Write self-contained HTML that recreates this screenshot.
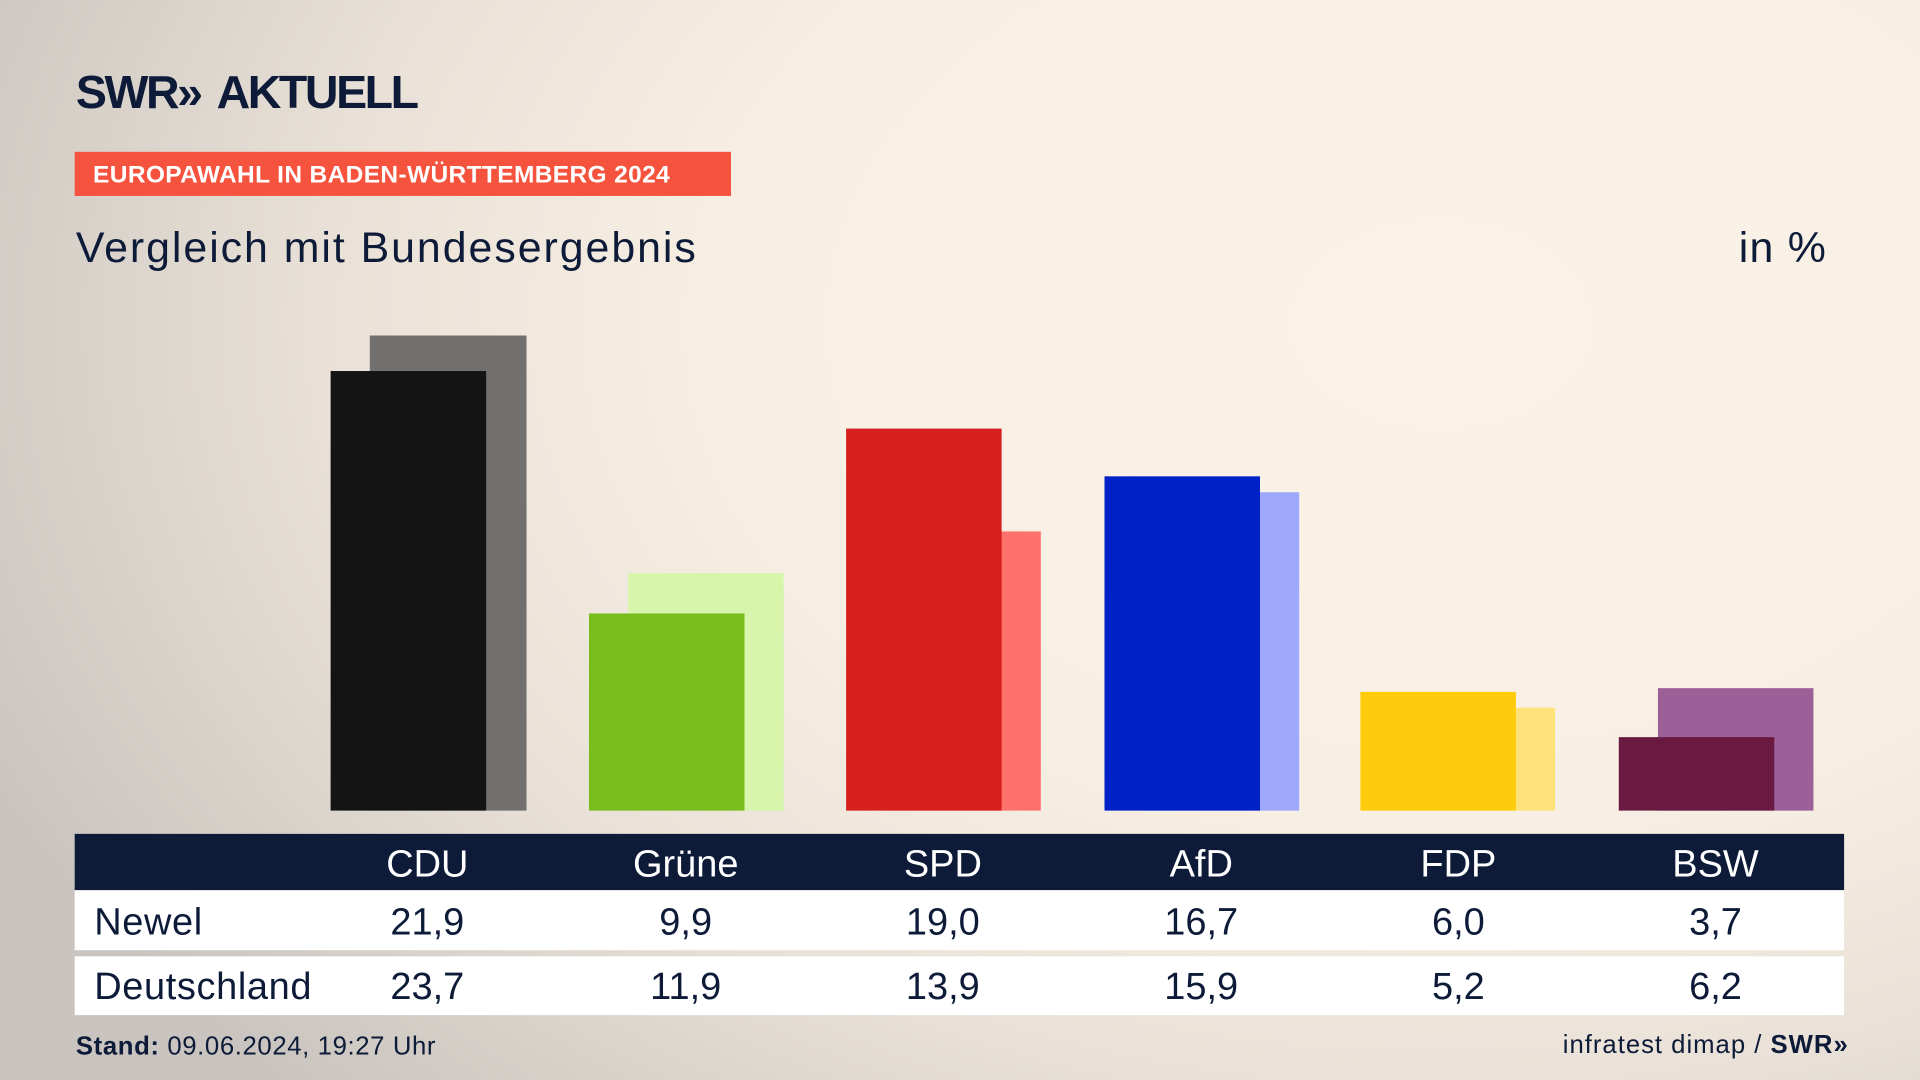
<!DOCTYPE html>
<html><head><meta charset="utf-8"><style>
html,body{margin:0;padding:0;width:1920px;height:1080px;overflow:hidden}
#w{position:absolute;left:0;top:0;width:1568px;height:882px;transform:scale(1.22449);transform-origin:0 0;
background:radial-gradient(ellipse 1300px 900px at 75% 30%,#faf2e7 0%,#f8efe4 45%,#e9e1d7 70%,#c9c4bf 100%);
font-family:"Liberation Sans",sans-serif;color:#0d1b38}
.a{position:absolute}
.b{position:absolute;bottom:220px}
.n{position:absolute;text-align:center;width:200px;font-size:31px}
</style></head><body><div id="w">
<div class="a" style="left:62px;top:55px;font-size:38px;font-weight:bold;letter-spacing:-2px">SWR<span style="letter-spacing:-6px">»</span> &nbsp;AKTUELL</div>
<div class="a" style="left:61px;top:124px;width:536px;height:36px;background:#f5533d;color:#fff;font-weight:bold;font-size:20px;line-height:38px;text-indent:15px;white-space:nowrap;letter-spacing:0.3px">EUROPAWAHL IN BADEN-WÜRTTEMBERG 2024</div>
<div class="a" style="left:62px;top:183px;font-size:35px;letter-spacing:1.6px">Vergleich mit Bundesergebnis</div>
<div class="a" style="left:1420px;top:183px;font-size:35px;letter-spacing:1px">in %</div>

<div class="b" style="left:302px;width:128px;top:274px;background:#72706e"></div>
<div class="b" style="left:270px;width:127px;top:303px;background:#141414"></div>
<div class="b" style="left:513px;width:127px;top:468px;background:#d7f5ab"></div>
<div class="b" style="left:481px;width:127px;top:501px;background:#78bd1c"></div>
<div class="b" style="left:723px;width:127px;top:434px;background:#ff726b"></div>
<div class="b" style="left:691px;width:127px;top:350px;background:#d61f1f"></div>
<div class="b" style="left:934px;width:127px;top:402px;background:#9ea9fd"></div>
<div class="b" style="left:902px;width:127px;top:389px;background:#0020c8"></div>
<div class="b" style="left:1143px;width:127px;top:578px;background:#ffe27a"></div>
<div class="b" style="left:1111px;width:127px;top:565px;background:#ffcc0d"></div>
<div class="b" style="left:1354px;width:127px;top:562px;background:#9c5f97"></div>
<div class="b" style="left:1322px;width:127px;top:602px;background:#6a1a40"></div>

<div class="a" style="left:61px;top:681px;width:1445px;height:46px;background:#0d1b38"></div>
<div class="a" style="left:61px;top:727px;width:1445px;height:49px;background:#fff"></div>
<div class="a" style="left:61px;top:781px;width:1445px;height:48px;background:#fff"></div>
<div class="a" style="left:77px;top:735px;font-size:31px;letter-spacing:0.5px">Newel</div>
<div class="a" style="left:77px;top:788px;font-size:31px;letter-spacing:0.5px">Deutschland</div>

<div style="color:#fff">
<div class="n" style="left:249px;top:688px">CDU</div>
<div class="n" style="left:460px;top:688px">Grüne</div>
<div class="n" style="left:670px;top:688px">SPD</div>
<div class="n" style="left:881px;top:688px">AfD</div>
<div class="n" style="left:1091px;top:688px">FDP</div>
<div class="n" style="left:1301px;top:688px">BSW</div>
</div>
<div class="n" style="left:249px;top:735px">21,9</div>
<div class="n" style="left:460px;top:735px">9,9</div>
<div class="n" style="left:670px;top:735px">19,0</div>
<div class="n" style="left:881px;top:735px">16,7</div>
<div class="n" style="left:1091px;top:735px">6,0</div>
<div class="n" style="left:1301px;top:735px">3,7</div>
<div class="n" style="left:249px;top:788px">23,7</div>
<div class="n" style="left:460px;top:788px">11,9</div>
<div class="n" style="left:670px;top:788px">13,9</div>
<div class="n" style="left:881px;top:788px">15,9</div>
<div class="n" style="left:1091px;top:788px">5,2</div>
<div class="n" style="left:1301px;top:788px">6,2</div>

<div class="a" style="left:62px;top:843px;font-size:21px;letter-spacing:0.5px"><b>Stand:</b> 09.06.2024, 19:27 Uhr</div>
<div class="a" style="right:63px;top:842px;font-size:21px;letter-spacing:0.8px">infratest dimap / <b>SWR<span style="letter-spacing:-4px">»</span></b></div>
</div></body></html>
